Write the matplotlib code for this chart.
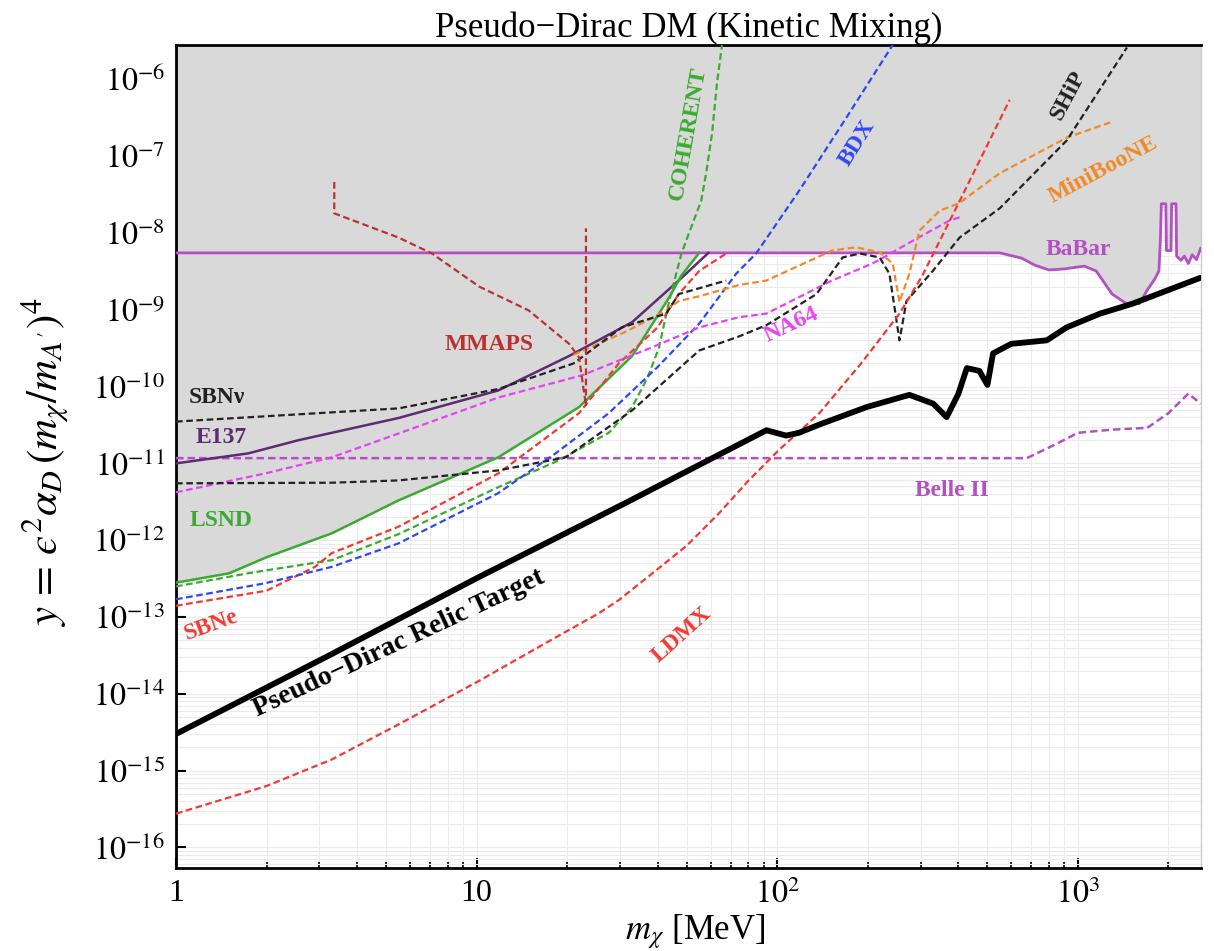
import matplotlib.pyplot as plt
import numpy as np
from matplotlib.ticker import FixedLocator, LogLocator, NullFormatter

plt.rcParams['font.family'] = ['Liberation Serif', 'DejaVu Serif']
plt.rcParams['mathtext.fontset'] = 'stix'

# --- curves (mass in MeV, y dimensionless) ---
relic_x = [1, 3.2, 10, 31, 92, 107, 118, 138, 198, 275, 330, 366, 400, 427, 470, 500, 522, 600, 788,
           918, 1184, 1520, 2550]
relic_y = [3.0e-15, 3.1e-14, 3.2e-13, 3.0e-12, 2.7e-11, 2.3e-11, 2.5e-11, 3.2e-11, 5.4e-11, 7.8e-11,
           6.0e-11, 4.0e-11, 8.0e-11, 1.74e-10, 1.6e-10, 1.05e-10, 2.7e-10, 3.6e-10, 4.0e-10, 5.9e-10,
           8.9e-10, 1.2e-9, 2.6e-9]

lsnd_x = [1, 1.5, 2, 3.3, 5.5, 11.8, 21.9, 32.9, 43.7, 48, 55]
lsnd_y = [2.8e-13, 3.7e-13, 6.0e-13, 1.23e-12, 3.3e-12, 1.2e-11, 5.4e-11, 2.5e-10, 1.45e-9, 2.8e-9, 5.5e-9]

e137_x = [1, 1.74, 2.55, 5.5, 11.8, 20.3, 32.9, 47, 59]
e137_y = [1.0e-11, 1.35e-11, 2.0e-11, 3.9e-11, 8.9e-11, 2.5e-10, 6.9e-10, 2.4e-9, 5.5e-9]

babar_x = [1, 550, 650, 720, 800, 900, 1050, 1150, 1300, 1450, 1600, 1700, 1800, 1860, 1880, 1895,
           1960, 1970, 2040, 2050, 2120, 2130, 2200, 2260, 2330, 2400, 2480, 2560]
babar_y = [5.5e-9, 5.5e-9, 4.7e-9, 3.8e-9, 3.3e-9, 3.4e-9, 3.7e-9, 3.2e-9, 1.6e-9, 1.2e-9, 1.2e-9,
           1.8e-9, 2.5e-9, 3.2e-9, 7.9e-9, 2.4e-8, 2.4e-8, 5.9e-9, 5.9e-9, 2.4e-8, 2.4e-8, 5.0e-9,
           4.4e-9, 5.0e-9, 4.0e-9, 5.2e-9, 4.5e-9, 6.3e-9]

belle_x = [1, 676, 850, 1000, 1300, 1700, 2000, 2330, 2560]
belle_y = [1.17e-11, 1.17e-11, 1.8e-11, 2.5e-11, 2.75e-11, 2.9e-11, 4.5e-11, 8.1e-11, 6.0e-11]

coherent_x = [1, 1.8, 3.3, 5.5, 11.8, 18.8, 27.5, 32.9, 37, 40.4, 43.7, 48, 52, 55.8, 58, 60.7, 63, 65.5]
coherent_y = [2.5e-13, 3.8e-13, 5.5e-13, 1.2e-12, 4.9e-12, 1.1e-11, 2.5e-11, 5.4e-11, 1.3e-10,
              3.2e-10, 1.3e-9, 5.4e-9, 1.26e-8, 2.6e-8, 6.0e-8, 2.0e-7, 8.9e-7, 2.8e-6]

sbne_x = [1, 2, 2.9, 3.3, 5.5, 11.8, 21.9, 29.7, 40, 47, 55, 67.6]
sbne_y = [1.4e-13, 2.2e-13, 4.5e-13, 6.8e-13, 1.5e-12, 7.4e-12, 4.5e-11, 2.0e-10, 5.9e-10, 1.6e-9, 3.2e-9, 5.4e-9]

bdx_x = [1, 1.98, 3.3, 5.5, 11.8, 18.3, 27.5, 40, 55, 73, 85, 118, 170, 242]
bdx_y = [1.7e-13, 2.75e-13, 4.5e-13, 9.1e-13, 4.1e-12, 1.35e-11, 4.5e-11, 1.8e-10, 6.6e-10, 2.95e-9,
         5.4e-9, 3.5e-8, 3.2e-7, 2.8e-6]

na64_x = [1, 1.98, 3.3, 5.5, 11.8, 22.4, 38, 55, 74.6, 92, 152, 207, 230, 282, 374, 404]
na64_y = [4.2e-12, 7.4e-12, 1.2e-11, 2.45e-11, 7.2e-11, 1.4e-10, 3.2e-10, 5.9e-10, 8.0e-10, 8.9e-10,
          2.4e-9, 4.0e-9, 5.0e-9, 7.9e-9, 1.45e-8, 1.6e-8]

miniboone_x = [21, 25, 32, 42.7, 47, 55, 74.6, 92, 152, 183, 219, 242, 255, 275, 297, 347, 404, 427,
               550, 918, 1280]
miniboone_y = [2.6e-10, 3.5e-10, 5.4e-10, 9.8e-10, 1.3e-9, 1.5e-9, 2.1e-9, 2.4e-9, 5.9e-9, 6.5e-9,
               5.6e-9, 4.0e-9, 1.26e-9, 2.95e-9, 1.07e-8, 1.95e-8, 2.45e-8, 2.9e-8, 6.0e-8, 1.74e-7, 2.75e-7]

ship_x = [1, 3.3, 5.5, 11.8, 19.8, 32.9, 55, 74.6, 92, 135, 165, 188, 219, 236, 255, 269, 329, 404,
          550, 918, 1456]
ship_y = [5.5e-12, 5.6e-12, 6.0e-12, 8.1e-12, 1.2e-11, 4.9e-11, 2.95e-10, 4.5e-10, 6.3e-10, 1.6e-9,
          4.8e-9, 5.4e-9, 4.8e-9, 2.95e-9, 4.0e-10, 1.3e-9, 3.2e-9, 8.7e-9, 2.1e-8, 1.6e-7, 2.6e-6]

sbnnu_x = [1, 5.5, 11.8, 21, 30.4, 42.7, 47, 67.6]
sbnnu_y = [3.5e-11, 5.2e-11, 9.3e-11, 2.0e-10, 5.9e-10, 8.9e-10, 1.6e-9, 2.4e-9]

mmaps_x = [3.36, 3.36, 5.5, 7.1, 10.2, 14.9, 20.3, 21.9, 23.1, 23.1]
mmaps_y = [4.6e-8, 1.8e-8, 8.7e-9, 5.4e-9, 2.0e-9, 9.8e-10, 3.6e-10, 2.4e-10, 5.6e-11, 1.15e-8]

ldmx_x = [1, 2, 3.3, 5.5, 10.2, 17, 25.5, 29.7, 37.4, 50, 64, 80, 101, 138, 190, 255, 304, 404, 593]
ldmx_y = [2.75e-16, 6.3e-16, 1.4e-15, 4.0e-15, 1.48e-14, 4.6e-14, 1.12e-13, 1.66e-13, 3.4e-13, 8.5e-13,
          2.24e-12, 5.9e-12, 1.48e-11, 4.5e-11, 2.0e-10, 8.9e-10, 2.8e-9, 2.6e-8, 5.4e-7]

fig = plt.figure(figsize=(12.14, 9.51), dpi=100)
ax = fig.add_axes([0.145, 0.0873, 0.844, 0.8654])
ax.set_xscale('log')
ax.set_yscale('log')
ax.set_xlim(1, 2560)
ax.set_ylim(5.4e-17, 2.8e-6)

# excluded region: LSND at low mass, then BaBar
env_x = lsnd_x + babar_x[1:]
env_y = lsnd_y + babar_y[1:]
ax.fill_between(env_x, env_y, 1e-3, color='#d9d9d9', lw=0, zorder=1)

dash = (0, (3, 1.6))
kw = dict(solid_joinstyle='round', dash_joinstyle='round', zorder=3)
ax.plot(babar_x, babar_y, color='#b450c4', lw=2.0, **kw)
ax.plot(belle_x, belle_y, color='#b450c4', lw=1.8, ls=dash, **kw)
ax.plot(e137_x, e137_y, color='#5e2a72', lw=1.8, **kw)
ax.plot(lsnd_x, lsnd_y, color='#3caa32', lw=1.8, **kw)
ax.plot(coherent_x, coherent_y, color='#3caa32', lw=1.6, ls=dash, **kw)
ax.plot(sbne_x, sbne_y, color='#f03a32', lw=1.6, ls=dash, **kw)
ax.plot(bdx_x, bdx_y, color='#3048f0', lw=1.6, ls=dash, **kw)
ax.plot(na64_x, na64_y, color='#e444f0', lw=1.6, ls=dash, **kw)
ax.plot(miniboone_x, miniboone_y, color='#f08a28', lw=1.6, ls=dash, **kw)
ax.plot(ship_x, ship_y, color='#222222', lw=1.6, ls=dash, **kw)
ax.plot(sbnnu_x, sbnnu_y, color='#222222', lw=1.6, ls=dash, **kw)
ax.plot(mmaps_x, mmaps_y, color='#b83232', lw=1.6, ls=dash, **kw)
ax.plot(ldmx_x, ldmx_y, color='#f03a32', lw=1.6, ls=dash, **kw)
ax.plot(relic_x, relic_y, color='black', lw=4.2, solid_joinstyle='round', solid_capstyle='round', zorder=5)

# labels
lab = dict(fontsize=17, fontweight='bold', ha='center', va='center', zorder=6)
ax.text(50.5, 2.0e-7, 'COHERENT', color='#3caa32', rotation=80, **lab)
ax.text(185, 1.5e-7, 'BDX', color='#3048f0', rotation=58, **lab)
ax.text(926, 6.2e-7, 'SHiP', color='#222222', rotation=62, **lab)
ax.text(1211, 6.6e-8, 'MiniBooNE', color='#f08a28', rotation=28, **lab)
ax.text(1000, 6.0e-9, 'BaBar', color='#b450c4', **lab)
ax.text(11, 3.5e-10, 'MMAPS', color='#b83232', **lab)
ax.text(111, 6.3e-10, 'NA64', color='#e444f0', rotation=25, **lab)
ax.text(380, 4.5e-12, 'Belle II', color='#b450c4', **lab)
ax.text(48, 5.8e-14, 'LDMX', color='#f03a32', rotation=42, **lab)
ax.text(5.5, 4.6e-14, 'Pseudo−Dirac Relic Target', color='black', rotation=25,
        **{**lab, 'fontsize': 20})
lab['ha'] = 'left'
ax.text(1.1, 7.1e-11, 'SBNν', color='#222222', **lab)
ax.text(1.16, 2.2e-11, 'E137', color='#5e2a72', **lab)
ax.text(1.11, 1.8e-12, 'LSND', color='#3caa32', **lab)
ax.text(1.04, 7.9e-14, 'SBNe', color='#f03a32', rotation=20, **lab)

# axes styling
ax.xaxis.set_major_locator(FixedLocator([1, 10, 100, 1000]))
ax.set_xticklabels(['1', '10', '$10^2$', '$10^3$'])
ax.xaxis.set_minor_locator(LogLocator(base=10, subs=np.arange(2, 10), numticks=20))
ax.xaxis.set_minor_formatter(NullFormatter())
yt = 10.0 ** np.arange(-16, -5)
ax.yaxis.set_major_locator(FixedLocator(yt))
ax.set_yticklabels([f'$10^{{{e}}}$' for e in range(-16, -5)])
ax.yaxis.set_minor_locator(LogLocator(base=10, subs=np.arange(2, 10), numticks=40))
ax.yaxis.set_minor_formatter(NullFormatter())
ax.tick_params(which='both', direction='in', top=False, right=False)
ax.tick_params(which='major', length=7, width=1.5, labelsize=23, pad=8)
ax.tick_params(axis='x', which='minor', length=4, width=1.2)
ax.tick_params(axis='y', which='minor', length=0)
ax.grid(which='both', color='#ebebeb', lw=0.8)
ax.set_axisbelow(True)
for s in ['left', 'bottom', 'top']:
    ax.spines[s].set_linewidth(2)
ax.spines['right'].set_color('#cccccc')
ax.spines['right'].set_linewidth(1)

ax.set_title('Pseudo−Dirac DM (Kinetic Mixing)', fontsize=25, pad=2)
fig.text(45 / 1214, 1 - 462 / 951, '$y\\,=\\,\u03f5^2\\alpha_D\\,(m_\\chi/m_{A^{\\prime}})^4$',
         rotation=90, ha='center', va='center', fontsize=31)
fig.text(695 / 1214, 1 - 912 / 951, r'$m_\chi$ [MeV]', ha='center', va='top', fontsize=25)

fig.savefig('out.png', dpi=100)
